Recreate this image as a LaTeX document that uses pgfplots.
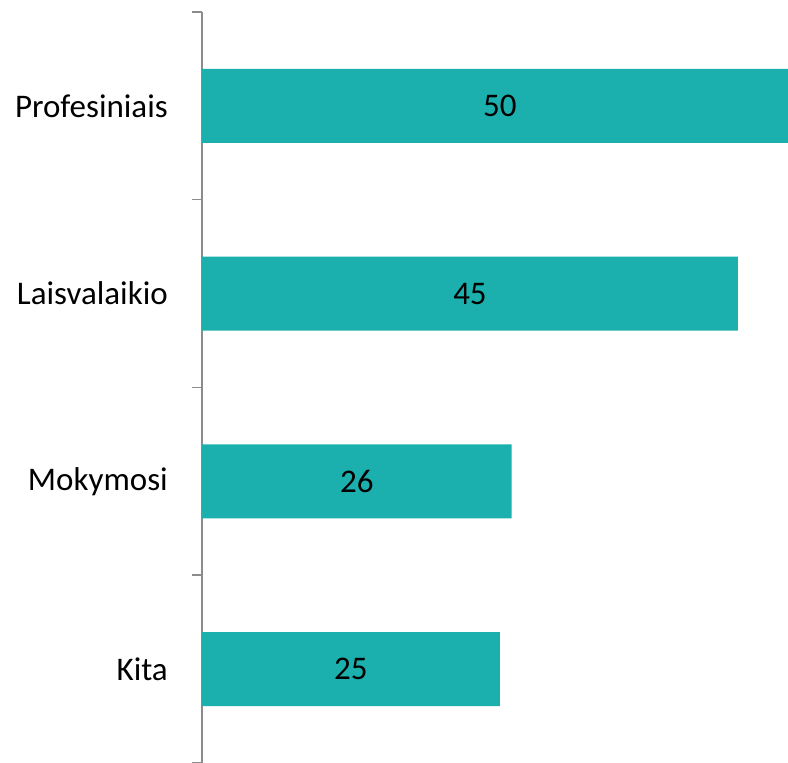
\documentclass[border=0pt]{standalone}
\usepackage{pgfplots}
\pgfplotsset{compat=1.18}
\usepackage{fontspec}
\setmainfont{Carlito}
\definecolor{barteal}{HTML}{1BB0AE}
\definecolor{axgrey}{HTML}{8C8C8C}
\begin{document}
\begin{tikzpicture}
\useasboundingbox (-202pt,0pt) rectangle (586pt,763pt);
\begin{axis}[
  at={(0pt,0pt)}, anchor=south west,
  scale only axis=true,
  width=586pt, height=751pt,
  xbar, bar width=74pt, bar shift=0pt,
  xmin=0, xmax=49.2, ymin=0.5, ymax=4.5,
  axis y line*=left, axis x line=none,
  xtick=\empty,
  ytick={1,2,3,4},
  yticklabels={Kita,Mokymosi,Laisvalaikio,Profesiniais},
  major tick length=0pt,
  minor ytick={0.5,1.5,2.5,3.5,4.5},
  minor tick length=10pt,
  tick align=outside,
  y axis line style={axgrey, line width=1.5pt},
  minor tick style={axgrey, line width=1.5pt},
  yticklabel style={font=\fontsize{33}{40}\selectfont, text=black, inner sep=0pt, xshift=-34pt},
  clip=false,
  point meta=x,
  visualization depends on={x \as \rawx},
  nodes near coords={\pgfmathprintnumber[assume math mode=true]{\pgfplotspointmeta}},
  every node near coord/.append style={font=\fontsize{33}{40}\selectfont, text=black, anchor=center, shift={(axis direction cs:-\rawx/2,0)}},
]
\addplot[fill=barteal, draw=none] coordinates {(25,1) (26,2) (45,3) (50,4)};
\end{axis}
\end{tikzpicture}
\end{document}
